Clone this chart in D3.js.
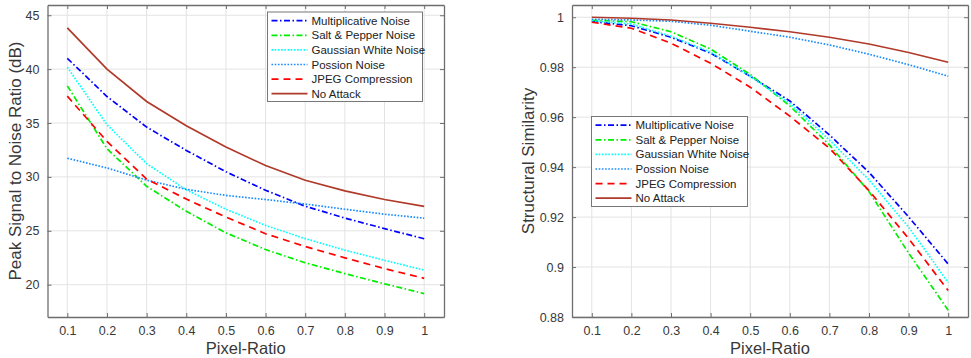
<!DOCTYPE html>
<html><head><meta charset="utf-8">
<script src="https://cdn.jsdelivr.net/npm/d3@7"></script>
<style>body{margin:0;background:#fff}svg{display:block;font-family:"Liberation Sans",Arial,sans-serif}</style>
</head><body><svg id="c" width="971" height="358"></svg>
<script>
const pixelRatio = [0.1,0.2,0.3,0.4,0.5,0.6,0.7,0.8,0.9,1.0];
const seriesNames = ["Multiplicative Noise","Salt & Pepper Noise","Gaussian White Noise","Possion Noise","JPEG Compression","No Attack"];

// PSNR (dB)
const psnrMultiplicative = [41.0,37.46,34.62,32.46,30.48,28.76,27.28,26.18,25.2,24.26];
const psnrSaltPepper     = [38.45,32.61,29.13,26.81,24.81,23.26,22.03,21.03,20.08,19.17];
const psnrGaussian       = [40.18,34.84,31.23,28.8,27.0,25.5,24.27,23.2,22.26,21.35];
const psnrPoisson        = [31.73,30.83,29.7,28.85,28.28,27.9,27.48,27.0,26.54,26.17];
const psnrJPEG           = [37.49,33.29,29.8,27.94,26.27,24.73,23.54,22.49,21.49,20.59];
const psnrNoAttack       = [43.83,40.0,37.0,34.74,32.77,31.05,29.69,28.7,27.9,27.26];

// SSIM
const ssimMultiplicative = [0.9983,0.9966,0.992,0.9856,0.9764,0.9665,0.9529,0.9379,0.9201,0.9012];
const ssimSaltPepper     = [0.9988,0.9982,0.9942,0.9873,0.9771,0.9645,0.9489,0.9302,0.9056,0.8827];
const ssimGaussian       = [0.9986,0.9973,0.9924,0.986,0.9763,0.9655,0.9509,0.9349,0.916,0.8938];
const ssimPoisson        = [0.9992,0.9989,0.9984,0.9968,0.9944,0.992,0.9889,0.9852,0.981,0.9764];
const ssimJPEG           = [0.998,0.9956,0.9896,0.9816,0.972,0.9604,0.9476,0.9306,0.9114,0.8906];
const ssimNoAttack       = [1.0,0.9996,0.9989,0.9976,0.996,0.9942,0.992,0.9893,0.9859,0.982];

const xTicks = [0.1,0.2,0.3,0.4,0.5,0.6,0.7,0.8,0.9,1];
const xTickLabels = ["0.1","0.2","0.3","0.4","0.5","0.6","0.7","0.8","0.9","1"];
const psnrTicks = [20,25,30,35,40,45];
const ssimTicks = [0.88,0.9,0.92,0.94,0.96,0.98,1];
const ssimTickLabels = ["0.88","0.9","0.92","0.94","0.96","0.98","1"];

const styles = [
  {color:"#0000ff", dash:"6,2.5,1.5,2.5"},
  {color:"#00ee00", dash:"6,2.5,1.5,2.5"},
  {color:"#00ffff", dash:"1.6,1.6"},
  {color:"#1a8cff", dash:"1.6,1.6"},
  {color:"#ff0000", dash:"7,5"},
  {color:"#b03a2a", dash:null}
];

const svg = d3.select("#c");
const axisCol = "#6e6e6e", gridCol = "#e3e3e3", textCol = "#383838";

function panel(opt){
  const {x0,x1,y0,y1,yDomain,yTicks,yTickFmt,series,yLabel,yLabelX,legend} = opt;
  const x = d3.scaleLinear().domain([0.05,1.05]).range([x0,x1]);
  const y = d3.scaleLinear().domain(yDomain).range([y1,y0]);
  const g = svg.append("g");
  g.append("rect").attr("x",x0).attr("y",y0).attr("width",x1-x0).attr("height",y1-y0).attr("fill","#fff");
  g.selectAll(".gx").data(xTicks).join("line").attr("x1",d=>x(d)).attr("x2",d=>x(d)).attr("y1",y0).attr("y2",y1).attr("stroke",gridCol).attr("stroke-width",1);
  g.selectAll(".gy").data(yTicks).join("line").attr("y1",d=>y(d)).attr("y2",d=>y(d)).attr("x1",x0).attr("x2",x1).attr("stroke",gridCol).attr("stroke-width",1);
  const xb = g.append("g").attr("transform",`translate(0,${y1})`).call(d3.axisBottom(x).tickValues(xTicks).tickFormat((d,i)=>xTickLabels[i]).tickSizeInner(-4).tickSizeOuter(0).tickPadding(9));
  const xt = g.append("g").attr("transform",`translate(0,${y0})`).call(d3.axisTop(x).tickValues(xTicks).tickFormat("").tickSizeInner(-4).tickSizeOuter(0));
  const yl = g.append("g").attr("transform",`translate(${x0},0)`).call(d3.axisLeft(y).tickValues(yTicks).tickFormat((d,i)=>yTickFmt[i]).tickSizeInner(-4).tickSizeOuter(0).tickPadding(8));
  const yr = g.append("g").attr("transform",`translate(${x1},0)`).call(d3.axisRight(y).tickValues(yTicks).tickFormat("").tickSizeInner(-4).tickSizeOuter(0));
  [xb,xt,yl,yr].forEach(a=>{
    a.select(".domain").attr("stroke",axisCol).attr("stroke-width",1.3);
    a.selectAll(".tick line").attr("stroke",axisCol);
    a.selectAll("text").attr("fill",textCol).style("font-size","12.5px").style("font-family","'Liberation Sans',Arial,sans-serif");
  });
  const line = d3.line().x((d,i)=>x(pixelRatio[i])).y(d=>y(d));
  series.forEach((s,k)=>{
    g.append("path").datum(s).attr("d",line).attr("fill","none")
      .attr("stroke",styles[k].color).attr("stroke-width",1.7)
      .attr("stroke-dasharray",styles[k].dash);
  });
  g.append("text").attr("x",(x0+x1)/2).attr("y",354).attr("text-anchor","middle").attr("fill",textCol).style("font-size","16.5px").text("Pixel-Ratio");
  g.append("text").attr("transform",`translate(${yLabelX},${(y0+y1)/2}) rotate(-90)`).attr("text-anchor","middle").attr("fill",textCol).style("font-size","17px").text(yLabel);
  const L = legend;
  const lg = g.append("g");
  lg.append("rect").attr("x",L.x).attr("y",L.y).attr("width",L.w).attr("height",L.h).attr("fill","#fff").attr("stroke","#777").attr("stroke-width",1);
  seriesNames.forEach((n,k)=>{
    const yy = L.y + 8.7 + k*14.6;
    lg.append("line").attr("x1",L.x+4).attr("x2",L.x+40).attr("y1",yy).attr("y2",yy)
      .attr("stroke",styles[k].color).attr("stroke-width",1.7).attr("stroke-dasharray",styles[k].dash);
    lg.append("text").attr("x",L.x+44).attr("y",yy+4).attr("fill","#222").style("font-size","11.5px").text(n);
  });
}

panel({x0:47.5,x1:444,y0:5,y1:317,yDomain:[17,45.95],yTicks:psnrTicks,yTickFmt:psnrTicks.map(String),
  series:[psnrMultiplicative,psnrSaltPepper,psnrGaussian,psnrPoisson,psnrJPEG,psnrNoAttack],
  yLabel:"Peak Signal to Noise Ratio (dB)",yLabelX:21,legend:{x:267.5,y:12,w:155,h:89.5}});
panel({x0:572,x1:968,y0:5,y1:317,yDomain:[0.88,1.0049],yTicks:ssimTicks,yTickFmt:ssimTickLabels,
  series:[ssimMultiplicative,ssimSaltPepper,ssimGaussian,ssimPoisson,ssimJPEG,ssimNoAttack],
  yLabel:"Structural Similarity",yLabelX:534,legend:{x:591.5,y:116.5,w:156,h:90}});
</script></body></html>
